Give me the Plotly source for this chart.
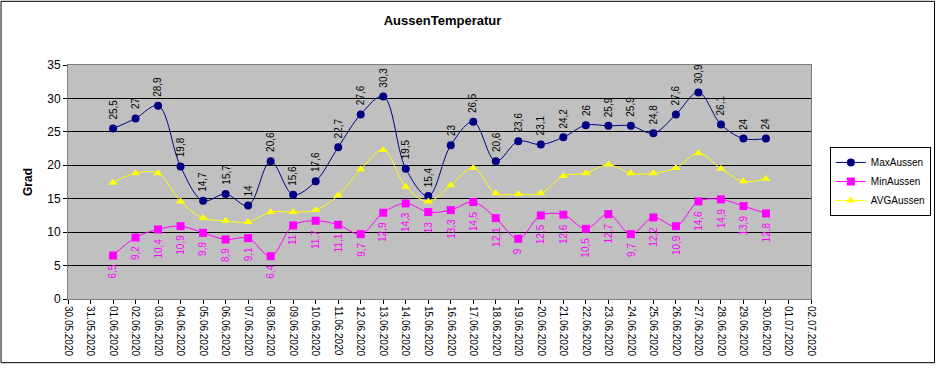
import plotly.graph_objects as go

all_dates = ["30.05.2020", "31.05.2020"] + [f"{d:02d}.06.2020" for d in range(1, 31)] + ["01.07.2020", "02.07.2020"]
dates = [f"{d:02d}.06.2020" for d in range(1, 31)]

max_aussen = [25.5, 27, 28.9, 19.8, 14.7, 15.7, 14, 20.6, 15.6, 17.6, 22.7, 27.6, 30.3, 19.5, 15.4,
              23, 26.5, 20.6, 23.6, 23.1, 24.2, 26, 25.9, 25.9, 24.8, 27.6, 30.9, 26.1, 24, 24]
min_aussen = [6.5, 9.2, 10.4, 10.9, 9.9, 8.9, 9.1, 6.4, 11, 11.7, 11.1, 9.7, 12.9, 14.3, 13,
              13.3, 14.5, 12.1, 9, 12.5, 12.6, 10.5, 12.7, 9.7, 12.2, 10.9, 14.6, 14.9, 13.9, 12.8]
avg_aussen = [17.4, 18.8, 18.8, 14.6, 12.1, 11.7, 11.5, 13.0, 13.0, 13.3, 15.5, 19.4, 22.3, 16.8, 14.6,
              17.0, 19.6, 15.8, 15.7, 15.8, 18.4, 18.8, 20.1, 18.8, 18.8, 19.6, 21.8, 19.5, 17.6, 18.0]

FONT = "Liberation Sans, Arial, sans-serif"


def fmt(v):
    if float(v).is_integer():
        return str(int(v))
    return f"{v:.1f}".replace(".", ",")


fig = go.Figure()
fig.add_trace(go.Scatter(x=dates, y=max_aussen, name="MaxAussen", mode="lines+markers",
                         line=dict(color="#000080", width=1, shape="spline", smoothing=1),
                         marker=dict(symbol="circle", size=8, color="#000080")))
fig.add_trace(go.Scatter(x=dates, y=min_aussen, name="MinAussen", mode="lines+markers",
                         line=dict(color="#ff00ff", width=1, shape="spline", smoothing=1),
                         marker=dict(symbol="square", size=8, color="#ff00ff")))
fig.add_trace(go.Scatter(x=dates, y=avg_aussen, name="AVGAussen", mode="lines+markers",
                         line=dict(color="#ffff00", width=1, shape="spline", smoothing=1),
                         marker=dict(symbol="triangle-up", size=8, color="#ffff00")))

annotations = []
for d, v in zip(dates, max_aussen):
    annotations.append(dict(x=d, y=v, text=fmt(v), showarrow=False, textangle=-90,
                            xanchor="center", yanchor="bottom", yshift=7,
                            font=dict(family=FONT, size=10, color="black")))
for d, v in zip(dates, min_aussen):
    annotations.append(dict(x=d, y=v, text=fmt(v), showarrow=False, textangle=-90,
                            xanchor="center", yanchor="top", yshift=-7,
                            font=dict(family=FONT, size=10, color="#ff00ff")))

W, H = 943, 368
ml, mr, mt, mb = 68, 126, 65, 66
pw, ph = W - ml - mr, H - mt - mb

fig.update_layout(
    width=W, height=H,
    margin=dict(l=ml, r=mr, t=mt, b=mb),
    paper_bgcolor="white",
    plot_bgcolor="#c0c0c0",
    font=dict(family=FONT, size=10, color="black"),
    title=dict(text="<b>AussenTemperatur</b>", x=(ml + pw / 2) / W, xanchor="center",
               y=1 - 20 / H, yanchor="middle", font=dict(family=FONT, size=13, color="black")),
    xaxis=dict(type="category", categoryorder="array", categoryarray=all_dates,
               tickvals=all_dates, ticktext=all_dates, range=[0, len(all_dates) - 1],
               tickangle=90, ticks="outside", ticklen=4, tickcolor="black",
               showgrid=False, showline=True, linecolor="#808080", mirror=True,
               tickfont=dict(family=FONT, size=10, color="black"), zeroline=False),
    yaxis=dict(range=[0, 35], dtick=5, ticks="outside", ticklen=4, tickcolor="black",
               showgrid=True, gridcolor="black", gridwidth=1, showline=True, linecolor="#808080",
               mirror=True, zeroline=False,
               tickfont=dict(family=FONT, size=12, color="black"),
               title=dict(text="<b>Grad</b>", font=dict(family=FONT, size=12, color="black"), standoff=12)),
    legend=dict(x=(836 - ml) / pw, y=1 - (148 - mt) / ph, xanchor="left", yanchor="top",
                bgcolor="white", bordercolor="black", borderwidth=1,
                font=dict(family=FONT, size=10, color="black"), itemwidth=30, tracegroupgap=4),
    annotations=annotations,
    showlegend=True,
)

fig.add_shape(type="rect", xref="paper", yref="paper",
              x0=-(ml - 0.5) / pw, x1=1 + (mr - 1.5) / pw,
              y0=-(mb - 1.5) / ph, y1=1 + (mt - 0.5) / ph,
              line=dict(color="black", width=1), fillcolor="rgba(0,0,0,0)", layer="above")

fig.write_html("out.html", config={"displayModeBar": False},
               post_script="document.body.style.margin='0';")
